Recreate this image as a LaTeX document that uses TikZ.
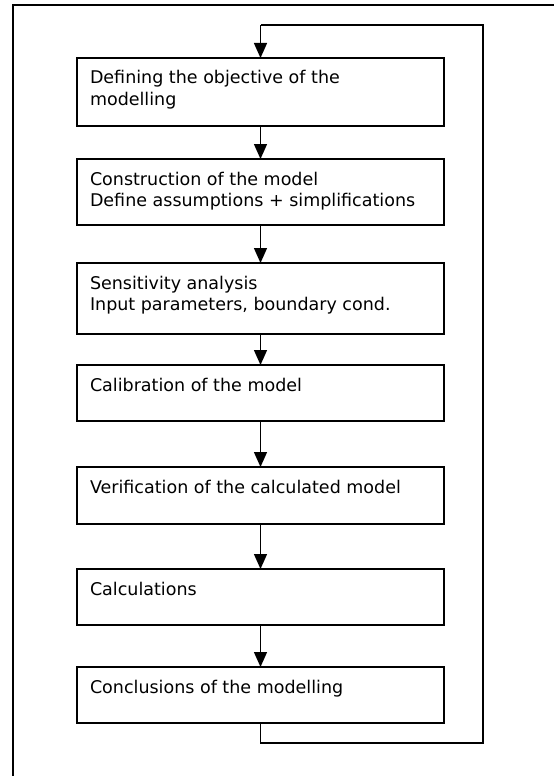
\documentclass[tikz,border=0pt]{standalone}
\usepackage{fontspec}
\setmainfont{DejaVu Sans}
\usetikzlibrary{arrows.meta}
\tikzset{
  box/.style={draw=black, line width=1.5pt, inner sep=0pt, outer sep=0pt, minimum width=367pt},
  txt/.style={inner sep=0pt, outer sep=0pt, anchor=base west, font=\fontsize{17.5}{21}\selectfont},
  conn/.style={line width=1.4pt, -{Triangle[length=15pt,width=13pt]}},
  loopline/.style={line width=1.4pt},
  frameline/.style={line width=1.5pt}
}
\newcommand{\twolines}[2]{\begin{tabular}[t]{@{}l@{}}#1\\#2\end{tabular}}
\begin{document}
\begin{tikzpicture}[x=1pt,y=-1pt]
\useasboundingbox (0,0) rectangle (554,776);
\coordinate (f1) at (13,776);
\coordinate (f2) at (13,5);
\coordinate (f3) at (554,5);
\draw[frameline] (f1) -- (f2) -- (f3);

\node[box, minimum height=68pt] (b1) at (260.5,92) {};
\node[box, minimum height=66pt] (b2) at (260.5,192) {};
\node[box, minimum height=71pt] (b3) at (260.5,298.5) {};
\node[box, minimum height=56pt] (b4) at (260.5,393) {};
\node[box, minimum height=57pt] (b5) at (260.5,495.5) {};
\node[box, minimum height=56pt] (b6) at (260.5,597) {};
\node[box, minimum height=56pt] (b7) at (260.5,695) {};

\node[txt] (t1) at ([xshift=13pt,yshift=-26pt]b1.north west) {\twolines{Defining the objective of the}{modelling}};
\node[txt] (t2) at ([xshift=13pt,yshift=-26pt]b2.north west) {\twolines{Construction of the model}{Define assumptions + simplifications}};
\node[txt] (t3) at ([xshift=13pt,yshift=-26pt]b3.north west) {\twolines{Sensitivity analysis}{Input parameters, boundary cond.}};
\node[txt] (t4) at ([xshift=13pt,yshift=-26pt]b4.north west) {Calibration of the model};
\node[txt] (t5) at ([xshift=13pt,yshift=-26pt]b5.north west) {Verification of the calculated model};
\node[txt] (t6) at ([xshift=13pt,yshift=-26pt]b6.north west) {Calculations};
\node[txt] (t7) at ([xshift=13pt,yshift=-26pt]b7.north west) {Conclusions of the modelling};

\draw[conn] (b1.south) -- (b2.north);
\draw[conn] (b2.south) -- (b3.north);
\draw[conn] (b3.south) -- (b4.north);
\draw[conn] (b4.south) -- (b5.north);
\draw[conn] (b5.south) -- (b6.north);
\draw[conn] (b6.south) -- (b7.north);

\coordinate (l1) at (260.5,743);
\coordinate (l2) at (483,743);
\coordinate (l3) at (483,25);
\coordinate (l4) at (260.5,25);
\draw[loopline] (b7.south) -- (l1) -- (l2) -- (l3) -- (l4);
\draw[conn] (l4) -- (b1.north);
\end{tikzpicture}
\end{document}
